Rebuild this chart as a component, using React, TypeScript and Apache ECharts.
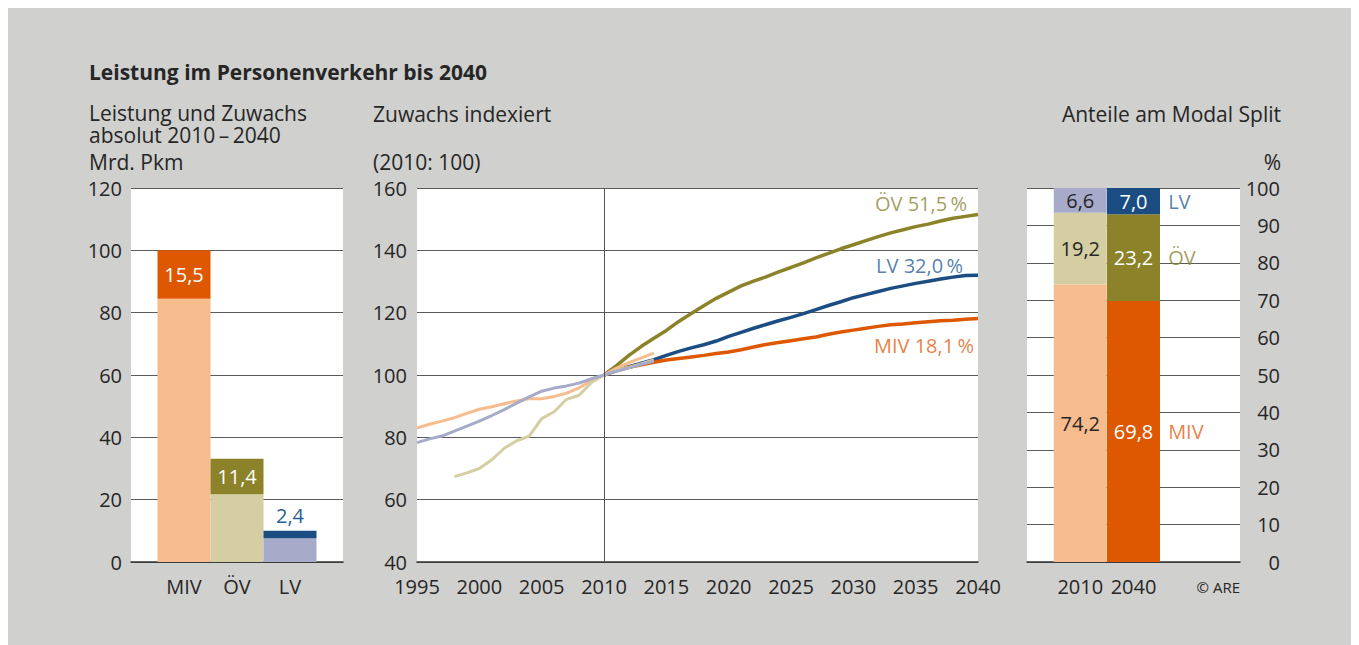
import React, { useEffect, useRef } from 'react';
import * as echarts from 'echarts';

// ---- Data ----
const modes = ['MIV', 'ÖV', 'LV'];
const abs2010 = [84.5, 21.7, 7.6];
const absGrowth = [15.5, 11.4, 2.4];

const histYears = [1995, 1996, 1997, 1998, 1999, 2000, 2001, 2002, 2003, 2004, 2005, 2006, 2007, 2008, 2009, 2010, 2011, 2012, 2013, 2014];
const mivHist = [83.0, 84.2, 85.2, 86.3, 87.7, 89.0, 89.8, 90.8, 91.7, 92.4, 92.4, 93.1, 94.2, 95.9, 98.2, 100, 102.2, 104.0, 105.5, 107.0];
const lvHist = [78.3, 79.5, 80.4, 82.0, 83.6, 85.2, 87.0, 88.9, 91.0, 93.0, 94.8, 95.8, 96.5, 97.4, 98.8, 100, 101.2, 102.3, 103.4, 104.4];
const oevHistYears = [1998, 1999, 2000, 2001, 2002, 2003, 2004, 2005, 2006, 2007, 2008, 2009, 2010, 2011, 2012, 2013, 2014];
const oevHist = [67.4, 68.6, 70.0, 72.8, 76.5, 78.9, 80.4, 86.0, 88.2, 92.2, 93.5, 97.6, 100, 101.5, 102.5, 103.6, 104.8];

const projYears = [2010, 2011, 2012, 2013, 2014, 2015, 2016, 2017, 2018, 2019, 2020, 2021, 2022, 2023, 2024, 2025, 2026, 2027, 2028, 2029, 2030, 2031, 2032, 2033, 2034, 2035, 2036, 2037, 2038, 2039, 2040];
const oevProj = [100, 103.0, 106.3, 109.2, 111.8, 114.3, 117.2, 119.7, 122.2, 124.6, 126.6, 128.6, 130.1, 131.5, 133.1, 134.5, 136.0, 137.6, 139.0, 140.5, 141.8, 143.1, 144.4, 145.6, 146.6, 147.6, 148.4, 149.4, 150.3, 150.9, 151.5];
const lvProj = [100, 101.5, 102.7, 103.8, 104.9, 106.3, 107.6, 108.7, 109.7, 110.9, 112.4, 113.7, 115.0, 116.2, 117.4, 118.5, 119.7, 121.0, 122.3, 123.5, 124.8, 125.8, 126.8, 127.8, 128.6, 129.4, 130.1, 130.8, 131.4, 131.9, 132.0];
const mivProj = [100, 101.4, 102.5, 103.3, 104.1, 104.8, 105.3, 105.8, 106.3, 106.9, 107.4, 108.1, 109.0, 109.8, 110.4, 111.0, 111.6, 112.2, 113.1, 113.8, 114.4, 115.0, 115.6, 116.1, 116.4, 116.8, 117.1, 117.4, 117.6, 117.9, 118.1];

const splitYears = ['2010', '2040'];
const share2010 = [74.2, 19.2, 6.6];
const share2040 = [69.8, 23.2, 7.0];

// ---- Styles ----
const lightColors = ['#F7BC8E', '#D4CEA2', '#A7AAC9'];
const darkColors = ['#DD5800', '#8B8229', '#1B4D82'];
const textColors = ['#E0600F', '#8C8534', '#2A5E9A'];
const FONT = '"Open Sans", "Noto Sans", sans-serif';
const TXT = '#262626';
const GRID = '#5a5a5a';

const fmt = (v: number) => v.toFixed(1).replace('.', ',');
const pairs = (xs: number[], ys: number[]) => xs.map((x, i) => [x, ys[i]]);

export default function App() {
  const ref = useRef<HTMLDivElement>(null);
  useEffect(() => {
    document.body.style.overflow = 'hidden';
    const chart = echarts.init(ref.current!, null, { renderer: 'svg' });

    const axisLabel = { fontFamily: FONT, fontSize: 20, color: TXT };
    const splitLine = { show: true, lineStyle: { color: GRID, width: 1.2 } };
    const xLine = { show: true, lineStyle: { color: '#333', width: 1.5 } };

    const text = (t: string, x: number, y: number, opts: any = {}) => ({
      type: 'text',
      x,
      y,
      silent: true,
      style: {
        text: t,
        fontFamily: FONT,
        fontSize: opts.fontSize ?? 21,
        fontWeight: opts.fontWeight ?? 'normal',
        lineHeight: opts.lineHeight,
        fill: opts.fill ?? TXT,
        align: opts.align ?? 'left',
        textAlign: opts.align ?? 'left',
        verticalAlign: opts.vAlign ?? 'middle',
        textVerticalAlign: opts.vAlign ?? 'middle',
      },
    });

    const projEnd = [oevProj, lvProj, mivProj];
    const endNames = ['ÖV', 'LV', 'MIV'];
    const endColors = [textColors[1], textColors[2], textColors[0]];
    const endDist = [11, 15, 4];
    const endOffY = [-11, -10, 27];

    const cum2040 = share2040.map((v, i) => share2040.slice(0, i).reduce((a, b) => a + b, 0) + v / 2);

    const option: any = {
      animation: false,
      backgroundColor: '#D0D0CE',
      textStyle: { fontFamily: FONT },
      grid: [
        { left: 123, top: 180, width: 212, height: 374, show: true, backgroundColor: '#fff', borderWidth: 0 },
        { left: 409, top: 180, width: 561, height: 374, show: true, backgroundColor: '#fff', borderWidth: 0 },
        { left: 1019, top: 180, width: 213, height: 374, show: true, backgroundColor: '#fff', borderWidth: 0 },
      ],
      xAxis: [
        {
          type: 'category', gridIndex: 0, data: ['', ...modes, ''], boundaryGap: false,
          axisLine: xLine, axisTick: { show: false }, splitLine: { show: false },
          axisLabel: { ...axisLabel, margin: 14, interval: 0 },
        },
        {
          type: 'value', gridIndex: 1, min: 1995, max: 2040, interval: 5,
          axisLine: xLine, axisTick: { show: false }, splitLine: { show: false },
          axisLabel: { ...axisLabel, margin: 14, formatter: (v: number) => String(v) },
        },
        {
          type: 'category', gridIndex: 2, data: ['', ...splitYears, '', ''], boundaryGap: false,
          axisLine: xLine, axisTick: { show: false }, splitLine: { show: false },
          axisLabel: { ...axisLabel, margin: 14, interval: 0 },
        },
        {
          type: 'value', gridIndex: 2, min: 0, max: 4, show: false,
        },
      ],
      yAxis: [
        {
          type: 'value', gridIndex: 0, min: 0, max: 120, interval: 20,
          axisLine: { show: false }, axisTick: { show: false }, splitLine,
          axisLabel: { ...axisLabel, margin: 9 },
        },
        {
          type: 'value', gridIndex: 1, min: 40, max: 160, interval: 20,
          axisLine: { show: false }, axisTick: { show: false }, splitLine,
          axisLabel: { ...axisLabel, margin: 10 },
        },
        {
          type: 'value', gridIndex: 2, min: 0, max: 100, interval: 10, position: 'right',
          axisLine: { show: false }, axisTick: { show: false }, splitLine,
          axisLabel: { ...axisLabel, margin: 40, align: 'right' },
        },
      ],
      series: [
        // Left: absolute 2010 level
        {
          type: 'bar', xAxisIndex: 0, yAxisIndex: 0, stack: 'abs', barWidth: 53,
          data: [null, ...modes.map((m, i) => ({ value: abs2010[i], itemStyle: { color: lightColors[i] } })), null],
        },
        // Left: growth 2010-2040
        {
          type: 'bar', xAxisIndex: 0, yAxisIndex: 0, stack: 'abs', barWidth: 53,
          data: [
            null,
            ...modes.map((m, i) => ({
              value: absGrowth[i],
              itemStyle: { color: darkColors[i] },
              label: i < 2
                ? { show: true, position: 'inside', color: '#fff' }
                : { show: true, position: 'top', distance: 5, color: textColors[2] },
            })),
            null,
          ],
          label: { show: true, fontFamily: FONT, fontSize: 20, formatter: (p: any) => fmt(p.value) },
        },
        // Middle: projections
        ...[oevProj, lvProj, mivProj].map((vals, k) => ({
          type: 'line', xAxisIndex: 1, yAxisIndex: 1, showSymbol: false, symbol: 'none',
          data: pairs(projYears, vals),
          lineStyle: { color: [darkColors[1], darkColors[2], darkColors[0]][k], width: 3.5 },
          itemStyle: { color: [darkColors[1], darkColors[2], darkColors[0]][k] },
          ...(k === 0
            ? {
                markLine: {
                  silent: true, symbol: 'none', label: { show: false },
                  lineStyle: { color: '#555', width: 1, type: 'solid' },
                  data: [{ xAxis: 2010 }],
                },
              }
            : {}),
        })),
        // Middle: history
        {
          type: 'line', xAxisIndex: 1, yAxisIndex: 1, showSymbol: false, symbol: 'none',
          data: pairs(histYears, mivHist), lineStyle: { color: lightColors[0], width: 3 },
        },
        {
          type: 'line', xAxisIndex: 1, yAxisIndex: 1, showSymbol: false, symbol: 'none',
          data: pairs(oevHistYears, oevHist), lineStyle: { color: lightColors[1], width: 3 },
        },
        {
          type: 'line', xAxisIndex: 1, yAxisIndex: 1, showSymbol: false, symbol: 'none',
          data: pairs(histYears, lvHist), lineStyle: { color: lightColors[2], width: 3 },
        },
        // Middle: end labels
        {
          type: 'scatter', xAxisIndex: 1, yAxisIndex: 1, symbolSize: 0, silent: true,
          itemStyle: { color: 'transparent' },
          data: projEnd.map((vals, k) => {
            const last = vals[vals.length - 1];
            return {
              name: endNames[k],
              value: [projYears[projYears.length - 1], last],
              label: {
                show: true, position: 'left', distance: endDist[k], offset: [0, endOffY[k]],
                color: endColors[k], fontFamily: FONT, fontSize: 20,
                formatter: `${endNames[k]} ${fmt(last - 100)}\u2009%`,
              },
            };
          }),
        },
        // Right: modal split
        ...modes.map((m, i) => ({
          type: 'bar', xAxisIndex: 2, yAxisIndex: 2, stack: 'share', barWidth: 53,
          data: [
            null,
            { value: share2010[i], itemStyle: { color: lightColors[i] }, label: { color: TXT } },
            { value: share2040[i], itemStyle: { color: darkColors[i] }, label: { color: '#fff' } },
            null,
            null,
          ],
          label: {
            show: true, position: 'inside', fontFamily: FONT, fontSize: 20,
            formatter: (p: any) => fmt(p.value),
          },
        })),
        {
          type: 'scatter', xAxisIndex: 3, yAxisIndex: 2, symbolSize: 0, silent: true,
          itemStyle: { color: 'transparent' },
          data: modes.map((m, i) => ({
            name: m,
            value: [2.5, cum2040[i]],
            label: {
              show: true, position: 'right', distance: 8, color: textColors[i],
              fontFamily: FONT, fontSize: 20, formatter: m,
            },
          })),
        },
      ],
      graphic: [
        text('Leistung im Personenverkehr bis 2040', 81, 64, { fontWeight: 'bold', fontSize: 21 }),
        text('Leistung und Zuwachs\nabsolut 2010\u2009–\u20092040', 81, 94, { lineHeight: 22, vAlign: 'top' }),
        text('Mrd. Pkm', 81, 154),
        text('Zuwachs indexiert', 365, 106),
        text('(2010: 100)', 365, 154),
        text('Anteile am Modal Split', 1273, 106, { align: 'right' }),
        text('%', 1273, 154, { align: 'right' }),
        text('© ARE', 1232, 579, { align: 'right', fontSize: 15 }),
      ],
    };

    chart.setOption(option);
    return () => chart.dispose();
  }, []);
  return <div ref={ref} style={{ width: 1351, height: 637 }} />;
}
